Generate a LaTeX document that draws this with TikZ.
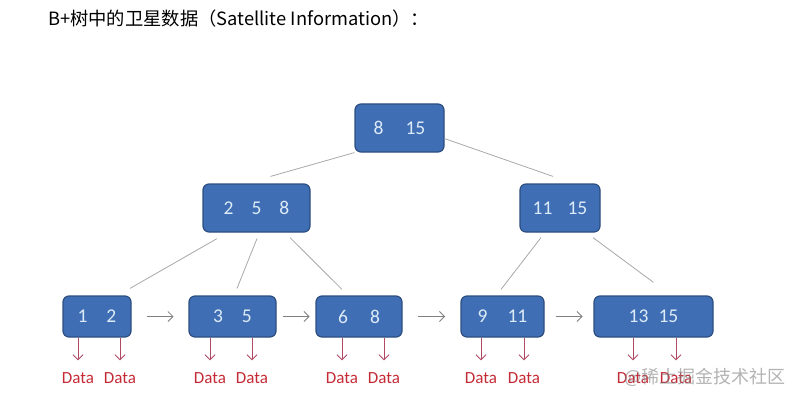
\documentclass[tikz,border=0pt]{standalone}
\usepackage{fontspec}
\setmainfont{Carlito}
\newfontfamily\cjk{Noto Sans CJK SC}
\usepackage{tikz}
\usetikzlibrary{arrows.meta,positioning,calc}
\definecolor{keyblue}{HTML}{3F6EB5}
\definecolor{keyedge}{HTML}{2C4E80}
\definecolor{keytext}{HTML}{DDEBF7}
\definecolor{datared}{HTML}{C42A35}
\definecolor{ptrred}{HTML}{B04A64}
\definecolor{linkgray}{HTML}{A8A8A8}

\tikzset{
  keynode/.style={draw=keyedge,line width=1.2pt,rounded corners=6pt,fill=keyblue,text=keytext,
    font=\fontsize{19.5}{19.5}\selectfont,minimum height=48pt,inner sep=0pt},
  leafnode/.style={keynode,minimum height=41pt},
  datanode/.style={text=datared,font=\fontsize{17}{17}\selectfont,inner sep=1pt},
  treeline/.style={draw=linkgray,line width=0.8pt},
  nextptr/.style={draw=gray,line width=0.8pt,-{Straight Barb[length=5pt,width=10pt]}},
  dataptr/.style={draw=ptrred,line width=0.9pt,-{Straight Barb[length=5pt,width=10pt]}}
}

\begin{document}
\begin{tikzpicture}[x=1pt,y=-1pt]
\useasboundingbox (0,0) rectangle (794,401);
\node[anchor=west,inner sep=0pt,font=\cjk\fontsize{18.3}{18.3}\selectfont] (title) at (48,19)
  {B+树中的卫星数据（Satellite Information）：};

% inner levels
\node[keynode,minimum width=89pt] (root) at (399.5,128) {8\hspace{22pt}15};
\node[keynode,minimum width=107pt] (inA) at (256.5,208) {2\hspace{18pt}5\hspace{18pt}8};
\node[keynode,minimum width=80pt] (inB) at (560,208) {11\hspace{15pt}15};

% leaves
\node[leafnode,minimum width=68pt] (leaf1) at (97,316.5) {1\hspace{19pt}2};
\node[leafnode,minimum width=87pt] (leaf2) at (232.5,316.5) {3\hspace{19pt}5};
\node[leafnode,minimum width=86pt] (leaf3) at (359,316.5) {6\hspace{22pt}8};
\node[leafnode,minimum width=83pt] (leaf4) at (502.5,316.5) {9\hspace{20pt}11};
\node[leafnode,minimum width=119pt] (leaf5) at (653.5,316.5) {13\hspace{10pt}15};

% satellite data
\node[datanode] (d1a) at (78,378) {Data};
\node[datanode] (d1b) at (120,378) {Data};
\node[datanode] (d2a) at (210,378) {Data};
\node[datanode] (d2b) at (252,378) {Data};
\node[datanode] (d3a) at (342,378) {Data};
\node[datanode] (d3b) at (384,378) {Data};
\node[datanode] (d4a) at (481,378) {Data};
\node[datanode] (d4b) at (524,378) {Data};
\node[datanode] (d5a) at (633,378) {Data};
\node[datanode] (d5b) at (676,378) {Data};

\node[text=gray,opacity=0.6,font=\cjk\fontsize{18}{18}\selectfont] (mark) at (705,377) {@稀土掘金技术社区};

% tree edges
\draw[treeline] (root.south west) -- ($(inA.north)+(14,-7)$);
\draw[treeline] ($(root.south east)+(0,-14)$) -- ($(inB.north)+(-7,-7)$);
\draw[treeline] ($(inA.south)+(-39.5,6)$) -- ($(leaf1.north)+(33,-7)$);
\draw[treeline] ($(inA.south)+(0.5,6)$) -- ($(leaf2.north)+(4.5,-7)$);
\draw[treeline] ($(inA.south)+(33.5,5)$) -- ($(leaf3.north)+(-17,-6)$);
\draw[treeline] ($(inB.south)+(-19,5)$) -- ($(leaf4.north)+(-1.5,-6)$);
\draw[treeline] ($(inB.south)+(33,5)$) -- ($(leaf5.north)+(0,-13)$);

% leaf chain
\foreach \a/\b in {leaf1/leaf2,leaf2/leaf3,leaf3/leaf4,leaf4/leaf5}
  \draw[nextptr] ($(\a.east)!.5!(\b.west)+(-13.5,0)$) -- ($(\a.east)!.5!(\b.west)+(13.5,0)$);

% data pointers
\foreach \lf/\d in {leaf1/d1a,leaf1/d1b,leaf2/d2a,leaf2/d2b,leaf3/d3a,leaf3/d3b,leaf4/d4a,leaf4/d4b,leaf5/d5a,leaf5/d5b}
  \draw[dataptr] (\lf.south -| \d) -- ([yshift=11pt]\d.north);
\end{tikzpicture}
\end{document}
